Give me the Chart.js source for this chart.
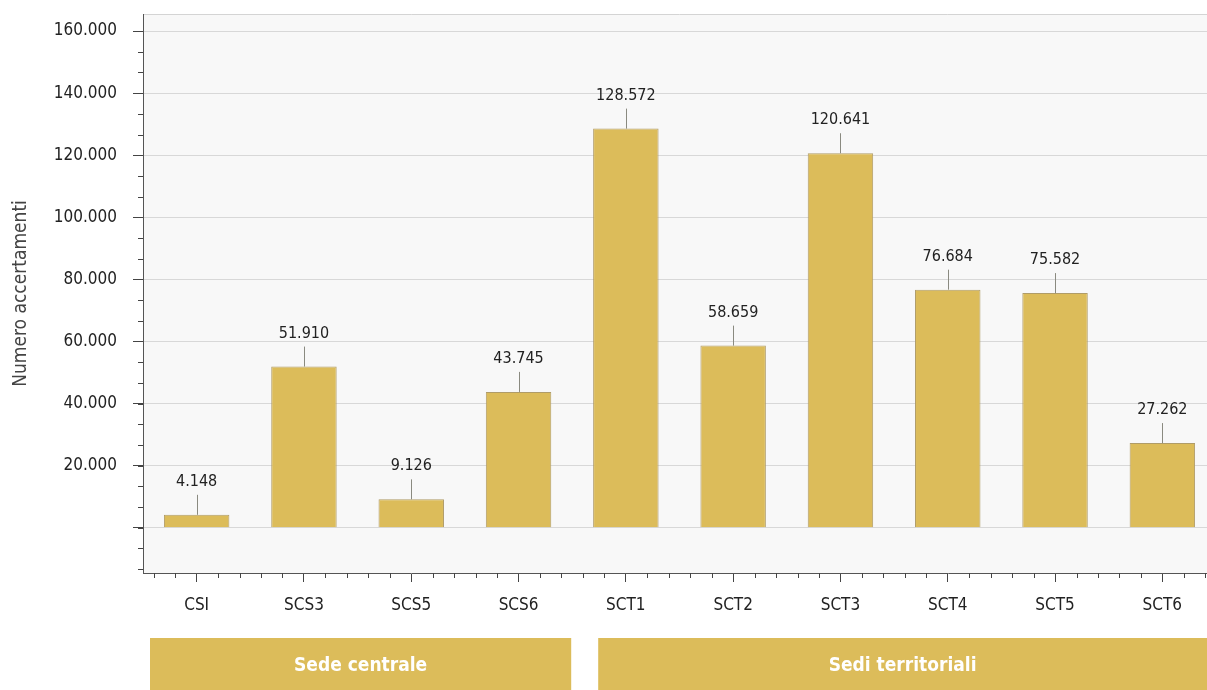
<!DOCTYPE html>
<html>
<head>
<meta charset="utf-8">
<script src="https://cdn.jsdelivr.net/npm/chart.js@4/dist/chart.umd.min.js"></script>
<style>
  html, body { margin: 0; padding: 0; background: #fff; overflow: hidden; }
  #wrap { width: 1220px; height: 690px; }
</style>
</head>
<body>
<div id="wrap"><canvas id="chart"></canvas></div>
<script>
// data
const categories = ['CSI', 'SCS3', 'SCS5', 'SCS6', 'SCT1', 'SCT2', 'SCT3', 'SCT4', 'SCT5', 'SCT6'];
const accertamenti = [4148, 51910, 9126, 43745, 128572, 58659, 120641, 76684, 75582, 27262];
const yTicks = [0, 20000, 40000, 60000, 80000, 100000, 120000, 140000, 160000];
const groupNames = ['Sede centrale', 'Sedi territoriali'];
const groupFirst = [0, 4];
const groupLast = [3, 9];

const FONT = '"DejaVu Sans Condensed", "DejaVu Sans", sans-serif';
const GOLD = '#dcbc5a';

function fmt(v) {
    return String(v).replace(/\B(?=(\d{3})+(?!\d))/g, '.');
}

// plot background and top border
const backdrop = {
    id: 'backdrop',
    beforeDraw(chart) {
        const { ctx, chartArea: a } = chart;
        ctx.save();
        ctx.fillStyle = '#f8f8f8';
        ctx.fillRect(a.left, a.top, a.right - a.left, a.bottom - a.top);
        ctx.strokeStyle = '#d4d4d4';
        ctx.lineWidth = 1;
        ctx.beginPath();
        ctx.moveTo(a.left, a.top + 0.5);
        ctx.lineTo(a.right, a.top + 0.5);
        ctx.stroke();
        ctx.restore();
    }
};

// minor tick marks on both axes
const minorTicks = {
    id: 'minorTicks',
    afterDraw(chart) {
        const { ctx, chartArea: a, scales } = chart;
        const x = scales.x, y = scales.y;
        ctx.save();
        ctx.strokeStyle = '#444';
        ctx.lineWidth = 1;
        ctx.beginPath();
        for (let v = -40000 / 3; v <= 165000; v += 20000 / 3) {
            const py = Math.round(y.getPixelForValue(v)) + 0.5;
            if (py < a.top || py > a.bottom) continue;
            ctx.moveTo(a.left - 5, py);
            ctx.lineTo(a.left, py);
        }
        const step = (x.getPixelForValue(1) - x.getPixelForValue(0)) / 5;
        for (let i = 0; i < categories.length; i++) {
            const c = x.getPixelForValue(i);
            for (let k = -2; k <= 2; k++) {
                if (k === 0) continue;
                const px = Math.round(c + k * step) + 0.5;
                if (px < a.left) continue;
                ctx.moveTo(px, a.bottom);
                ctx.lineTo(px, a.bottom + 5);
            }
        }
        ctx.stroke();
        ctx.restore();
    }
};

// value labels with leader line
const valueLabels = {
    id: 'valueLabels',
    afterDatasetsDraw(chart) {
        const { ctx } = chart;
        const meta = chart.getDatasetMeta(0);
        ctx.save();
        ctx.font = '16px ' + FONT;
        ctx.fillStyle = '#222';
        ctx.textAlign = 'center';
        ctx.textBaseline = 'alphabetic';
        ctx.strokeStyle = '#8a8a80';
        ctx.lineWidth = 1;
        meta.data.forEach((bar, i) => {
            const px = Math.round(bar.x) + 0.5;
            ctx.beginPath();
            ctx.moveTo(px, bar.y);
            ctx.lineTo(px, bar.y - 20);
            ctx.stroke();
            ctx.fillText(fmt(accertamenti[i]), bar.x, bar.y - 29);
        });
        ctx.restore();
    }
};

// group bands under the x axis
const groupBands = {
    id: 'groupBands',
    afterDraw(chart) {
        const { ctx, scales: { x } } = chart;
        const half = (x.getPixelForValue(1) - x.getPixelForValue(0)) / 2;
        const insetL = [7, 26];
        const insetR = [1, -10];
        ctx.save();
        groupNames.forEach((name, g) => {
            const l = x.getPixelForValue(groupFirst[g]) - half + insetL[g];
            const r = x.getPixelForValue(groupLast[g]) + half - insetR[g];
            ctx.fillStyle = GOLD;
            ctx.fillRect(l, 638, r - l, 52);
            ctx.fillStyle = '#fff';
            ctx.font = 'bold 19px ' + FONT;
            ctx.textAlign = 'center';
            ctx.textBaseline = 'middle';
            const cx = g === 1 ? (l + 1207) / 2 : (l + r) / 2;
            ctx.fillText(name, cx, 666);
        });
        ctx.restore();
    }
};

new Chart(document.getElementById('chart'), {
    type: 'bar',
    data: {
        labels: categories,
        datasets: [{
            data: accertamenti,
            backgroundColor: GOLD,
            borderColor: '#b09c68',
            borderWidth: 1,
            categoryPercentage: 1,
            barPercentage: 0.61
        }]
    },
    options: {
        responsive: true,
        maintainAspectRatio: false,
        animation: false,
        layout: { padding: { top: 14, right: 4, left: 0, bottom: 0 } },
        plugins: {
            legend: { display: false },
            tooltip: { enabled: false }
        },
        scales: {
            x: {
                grid: {
                    offset: false,
                    drawOnChartArea: false,
                    tickLength: 9,
                    tickColor: '#444'
                },
                border: { color: '#555', width: 1 },
                ticks: {
                    font: { family: FONT, size: 17 },
                    color: '#222',
                    padding: 13
                },
                afterFit(scale) {
                    scale.height = 117;
                    scale.paddingLeft = 0;
                    scale.paddingRight = 0;
                }
            },
            y: {
                min: -14600,
                max: 165500,
                afterBuildTicks(scale) {
                    scale.ticks = yTicks.map(v => ({ value: v }));
                },
                grid: {
                    color: '#d8d8d8',
                    tickLength: 10,
                    tickColor: '#444'
                },
                border: { color: '#555', width: 1 },
                ticks: {
                    font: { family: FONT, size: 17 },
                    color: '#222',
                    padding: 16,
                    callback: v => (v === 0 ? '' : fmt(v))
                },
                title: {
                    display: true,
                    text: 'Numero accertamenti',
                    font: { family: FONT, size: 19 },
                    color: '#444',
                    padding: { top: 10, bottom: 0 }
                },
                afterFit(scale) {
                    scale.width = 143;
                    scale.paddingTop = 0;
                    scale.paddingBottom = 0;
                }
            }
        }
    },
    plugins: [backdrop, minorTicks, valueLabels, groupBands]
});
</script>
</body>
</html>
